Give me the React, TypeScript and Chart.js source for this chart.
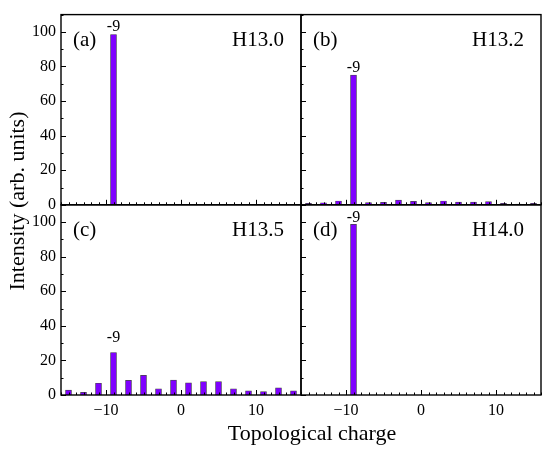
import React, { useEffect, useRef } from 'react';
import { Chart, registerables } from 'chart.js';

Chart.register(...registerables);

// ---- data ----
const charges = [-15, -13, -11, -9, -7, -5, -3, -1, 1, 3, 5, 7, 9, 11, 13, 15];
const h130 = [0, 0, 0, 98.5, 0, 0, 0, 0, 0, 0, 0, 0, 0, 0, 0, 0];
const h132 = [0.8, 1.2, 2.2, 75, 1.3, 1.4, 2.7, 2.0, 1.3, 2.2, 1.6, 1.6, 1.8, 0.8, 0.4, 0.8];
const h135 = [2.8, 1.5, 6.8, 24.6, 8.5, 11.4, 3.6, 8.6, 7.0, 7.7, 7.7, 3.6, 2.4, 2.0, 4.1, 2.4];
const h140 = [0, 0, 0, 98.7, 0, 0, 0, 0, 0, 0, 0, 0, 0, 0, 0, 0];
const panelTags = ['(a)', '(b)', '(c)', '(d)'];
const panelNames = ['H13.0', 'H13.2', 'H13.5', 'H14.0'];
const peakCharge = -9;
const xTickValues = [-10, 0, 10];
const yTickValues = [0, 20, 40, 60, 80, 100];
const xMin = -16;
const xMax = 16;
const yMin = 0;
const yMax = 110;
const xTitle = 'Topological charge';
const yTitle = 'Intensity (arb. units)';

const series = [h130, h132, h135, h140];
const panelAxes = [
  { x: 'xL', y: 'yTop' },
  { x: 'xR', y: 'yTop' },
  { x: 'xL', y: 'yBot' },
  { x: 'xR', y: 'yBot' },
];
const peakLabelGap = [3, 3, 10, 2];

const FONT = "'Liberation Serif', 'Times New Roman', serif";
const BAR_COLOR = '#7F00FF';

const fmt = (v: number) => (v < 0 ? '\u2212' + Math.abs(v) : String(v));

const overlayPlugin = {
  id: 'overlay',
  afterDatasetsDraw(chart: any) {
    const ctx = chart.ctx as CanvasRenderingContext2D;
    ctx.save();
    panelAxes.forEach((p, i) => {
      const xs = chart.scales[p.x];
      const ys = chart.scales[p.y];
      const l = xs.left;
      const r = xs.right;
      const t = ys.top;
      const b = ys.bottom;
      // ticks (inward)
      ctx.strokeStyle = '#000';
      ctx.lineWidth = 1;
      ctx.beginPath();
      for (let v = xMin; v <= xMax; v += 1) {
        const px = Math.round(xs.getPixelForValue(v)) + 0.5;
        const len = v % 10 === 0 ? 5 : 2.5;
        ctx.moveTo(px, b);
        ctx.lineTo(px, b - len);
      }
      for (let v = yMin; v <= yMax; v += 10) {
        const py = Math.round(ys.getPixelForValue(v)) + 0.5;
        const len = v % 20 === 0 ? 5 : 2.5;
        ctx.moveTo(l, py);
        ctx.lineTo(l + len, py);
      }
      ctx.stroke();
      // frame
      ctx.lineWidth = 1.4;
      ctx.strokeRect(l, t, r - l, b - t);
      // panel labels
      ctx.fillStyle = '#000';
      ctx.font = `21px ${FONT}`;
      ctx.textBaseline = 'alphabetic';
      ctx.textAlign = 'left';
      ctx.fillText(panelTags[i], l + 12, t + 31);
      ctx.textAlign = 'right';
      ctx.fillText(panelNames[i], r - 17, t + 31);
      // peak label
      const idx = charges.indexOf(peakCharge);
      const el = chart.getDatasetMeta(i).data[idx];
      if (el) {
        ctx.font = `16px ${FONT}`;
        ctx.textAlign = 'center';
        ctx.fillText(String(peakCharge), el.x, el.y - peakLabelGap[i]);
      }
    });
    // axis titles
    ctx.fillStyle = '#000';
    ctx.font = `22px ${FONT}`;
    ctx.textAlign = 'center';
    ctx.textBaseline = 'alphabetic';
    ctx.fillText(xTitle, 312, 440);
    ctx.save();
    ctx.translate(24, 201);
    ctx.rotate(-Math.PI / 2);
    ctx.fillText(yTitle, 0, 0);
    ctx.restore();
    ctx.restore();
  },
};

function xScale(showLabels: boolean) {
  return {
    type: 'linear',
    position: 'bottom',
    stack: 'x',
    stackWeight: 1,
    min: xMin,
    max: xMax,
    offset: false,
    grid: { display: false, drawTicks: false },
    border: { display: false },
    afterBuildTicks: (s: any) => {
      s.ticks = xTickValues.map((v) => ({ value: v }));
    },
    afterFit: (s: any) => {
      s.height = 25;
    },
    ticks: {
      display: showLabels,
      autoSkip: false,
      maxRotation: 0,
      padding: 6,
      color: '#000',
      font: { family: FONT, size: 16 },
      callback: (v: any) => fmt(Number(v)),
    },
  };
}

function yScale() {
  return {
    type: 'linear',
    position: 'left',
    stack: 'y',
    stackWeight: 1,
    min: yMin,
    max: yMax,
    grid: { display: false, drawTicks: false },
    border: { display: false },
    afterBuildTicks: (s: any) => {
      s.ticks = yTickValues.map((v) => ({ value: v }));
    },
    afterFit: (s: any) => {
      s.width = 40;
    },
    ticks: {
      autoSkip: false,
      padding: 5,
      color: '#000',
      font: { family: FONT, size: 16 },
      callback: (v: any) => fmt(Number(v)),
    },
  };
}

export default function App() {
  const ref = useRef<HTMLCanvasElement | null>(null);
  useEffect(() => {
    if (!ref.current) return;
    const datasets = series.map((vals, i) => ({
      label: panelNames[i],
      data: charges.map((c, j) => ({ x: c, y: vals[j] })),
      xAxisID: panelAxes[i].x,
      yAxisID: panelAxes[i].y,
      backgroundColor: BAR_COLOR,
      borderColor: '#444444',
      borderWidth: 0.7,
      barThickness: 6,
      grouped: false,
    }));
    const chart = new Chart(ref.current, {
      type: 'bar',
      data: { datasets } as any,
      options: {
        animation: false,
        responsive: false,
        maintainAspectRatio: false,
        layout: { padding: { left: 21, right: 9, top: 8, bottom: 32 } },
        plugins: { legend: { display: false }, tooltip: { enabled: false } },
        scales: {
          xL: xScale(true),
          xR: xScale(true),
          yBot: yScale(),
          yTop: yScale(),
        } as any,
      },
      plugins: [overlayPlugin],
    });
    return () => chart.destroy();
  }, []);
  return (
    <div style={{ position: 'absolute', left: 0, top: 0, width: 550, height: 452, background: '#fff' }}>
      <canvas ref={ref} width={550} height={452} style={{ width: 550, height: 452 }} />
    </div>
  );
}
